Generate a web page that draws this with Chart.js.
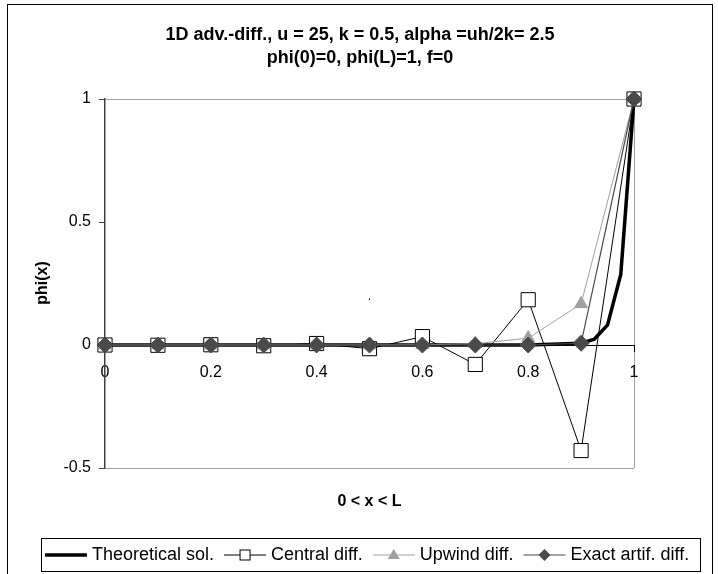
<!DOCTYPE html>
<html>
<head>
<meta charset="utf-8">
<script src="https://cdn.jsdelivr.net/npm/chart.js@4.4.1/dist/chart.umd.min.js"></script>
<style>
    html, body { margin: 0; padding: 0; background: #fff; }
    #wrap { width: 718px; height: 574px; position: relative; }
</style>
</head>
<body>
<div id="wrap">
    <canvas id="grafico" width="718" height="574"></canvas>
</div>
<script>

// DATOS
const xNodes = [0, 0.1, 0.2, 0.3, 0.4, 0.5, 0.6, 0.7, 0.8, 0.9, 1];

const centralDiff = [0, -0.001, 0.001, -0.003, 0.006, -0.015, 0.034, -0.079, 0.184, -0.429, 1];

const upwindDiff = [0, 0, 0, 0, 0, 0, 0.001, 0.005, 0.028, 0.167, 1];

const exactArtif = [0, 0, 0, 0, 0, 0, 0, 0, 0, 0.007, 1];

const theoryX = [0, 0.1, 0.2, 0.3, 0.4, 0.5, 0.6, 0.7, 0.8, 0.9, 0.925, 0.95, 0.975, 1];

const theoryY = [0, 0, 0, 0, 0, 0, 0, 0, 0, 0.007, 0.024, 0.082, 0.287, 1];

const seriesNames = [
    'Theoretical sol.',
    'Central diff.',
    'Upwind diff.',
    'Exact artif. diff.'
];

const xTicks = [0, 0.2, 0.4, 0.6, 0.8, 1];

const yTicks = [-0.5, 0, 0.5, 1];

const titleLines = [
    '1D adv.-diff., u = 25, k = 0.5, alpha =uh/2k= 2.5',
    'phi(0)=0, phi(L)=1, f=0'
];

const xTitle = '0 < x < L';

const yTitle = 'phi(x)';

// marca suelta que aparece dentro del grafico
const strayMark = { x: 0.5, y: 0.17, text: '\u2018' };

const FONT = 'Arial, "Liberation Sans", sans-serif';

function pares(xs, ys) {

    return xs.map((x, i) => ({ x: x, y: ys[i] }));
}

// MARCADORES LEYENDA
function marcador(ctx, tipo, x, y) {

    ctx.save();
    ctx.lineWidth = 1;

    if (tipo === 'rect') {
        ctx.fillStyle = '#fff';
        ctx.strokeStyle = '#000';
        ctx.fillRect(x - 5, y - 5, 10, 10);
        ctx.strokeRect(x - 5, y - 5, 10, 10);
    }

    if (tipo === 'triangle') {
        ctx.fillStyle = '#a0a0a0';
        ctx.beginPath();
        ctx.moveTo(x, y - 6);
        ctx.lineTo(x + 6, y + 4);
        ctx.lineTo(x - 6, y + 4);
        ctx.closePath();
        ctx.fill();
    }

    if (tipo === 'rectRot') {
        ctx.fillStyle = '#4a4a4a';
        ctx.beginPath();
        ctx.moveTo(x, y - 6);
        ctx.lineTo(x + 6, y);
        ctx.lineTo(x, y + 6);
        ctx.lineTo(x - 6, y);
        ctx.closePath();
        ctx.fill();
    }

    ctx.restore();
}

// TEXTOS, MARCO Y LEYENDA
const marco = {

    id: 'marco',

    beforeDraw(chart) {

        const ctx = chart.ctx;
        ctx.save();
        ctx.fillStyle = '#fff';
        ctx.fillRect(0, 0, chart.width, chart.height);
        ctx.restore();
    },

    afterDraw(chart) {

        const ctx = chart.ctx;
        const area = chart.chartArea;

        ctx.save();

        // borde exterior
        ctx.strokeStyle = '#000';
        ctx.lineWidth = 1;
        ctx.strokeRect(7.5, 4.5, 705, 600);

        // titulo
        ctx.fillStyle = '#000';
        ctx.textAlign = 'center';
        ctx.textBaseline = 'middle';
        ctx.font = 'bold 18px ' + FONT;

        ctx.fillText(titleLines[0], 360, 35);
        ctx.fillText(titleLines[1], 360, 58);

        // titulos de ejes
        ctx.font = 'bold 16px ' + FONT;
        ctx.fillText(xTitle, (area.left + area.right) / 2, 502);

        ctx.save();
        ctx.translate(43, 283);
        ctx.rotate(-Math.PI / 2);
        ctx.fillText(yTitle, 0, 0);
        ctx.restore();

        // marca suelta
        ctx.font = '11px ' + FONT;
        ctx.fillText(
            strayMark.text,
            chart.scales.x.getPixelForValue(strayMark.x),
            chart.scales.y.getPixelForValue(strayMark.y)
        );

        // leyenda
        ctx.strokeStyle = '#000';
        ctx.strokeRect(41.5, 538.5, 659, 33);

        ctx.font = '18px ' + FONT;
        ctx.textAlign = 'left';

        const ds = chart.data.datasets;
        const ly = 555;
        let lx = 45;

        ds.forEach((d, i) => {

            ctx.save();
            ctx.strokeStyle = d.borderColor;
            ctx.lineWidth = d.borderWidth;
            ctx.beginPath();
            ctx.moveTo(lx, ly);
            ctx.lineTo(lx + 42, ly);
            ctx.stroke();
            ctx.restore();

            if (d.pointRadius > 0) {
                marcador(ctx, d.pointStyle, lx + 21, ly);
            }

            ctx.fillStyle = '#000';
            ctx.fillText(seriesNames[i], lx + 47, ly);

            lx += 47 + ctx.measureText(seriesNames[i]).width + 10;
        });

        ctx.restore();
    }
};

// CHART
new Chart(

    document.getElementById('grafico'),

    {
        type: 'scatter',

        data: {

            datasets: [
                {
                    label: seriesNames[0],
                    data: pares(theoryX, theoryY),
                    showLine: true,
                    clip: false,
                    borderColor: '#000',
                    borderWidth: 3.5,
                    pointRadius: 0,
                    order: 4
                },
                {
                    label: seriesNames[1],
                    data: pares(xNodes, centralDiff),
                    showLine: true,
                    clip: false,
                    borderColor: '#000',
                    borderWidth: 1,
                    pointStyle: 'rect',
                    pointRadius: 10,
                    pointBackgroundColor: '#fff',
                    pointBorderColor: '#000',
                    pointBorderWidth: 1,
                    order: 3
                },
                {
                    label: seriesNames[2],
                    data: pares(xNodes, upwindDiff),
                    showLine: true,
                    clip: false,
                    borderColor: '#a0a0a0',
                    borderWidth: 1,
                    pointStyle: 'triangle',
                    pointRadius: 7.5,
                    pointBackgroundColor: '#a0a0a0',
                    pointBorderColor: '#a0a0a0',
                    pointBorderWidth: 1,
                    order: 2
                },
                {
                    label: seriesNames[3],
                    data: pares(xNodes, exactArtif),
                    showLine: true,
                    clip: false,
                    borderColor: '#4a4a4a',
                    borderWidth: 1.2,
                    pointStyle: 'rectRot',
                    pointRadius: 8,
                    pointBackgroundColor: '#4a4a4a',
                    pointBorderColor: '#4a4a4a',
                    pointBorderWidth: 1,
                    order: 1
                }
            ]
        },

        options: {

            responsive: false,
            animation: false,
            devicePixelRatio: 1,

            layout: {
                padding: { left: 0, right: 84, top: 99, bottom: 106 }
            },

            elements: {
                line: { tension: 0 }
            },

            scales: {

                x: {
                    type: 'linear',
                    position: { y: 0 },
                    min: 0,
                    max: 1,
                    afterBuildTicks: s => { s.ticks = xTicks.map(v => ({ value: v })); },
                    ticks: {
                        color: '#000',
                        font: { family: FONT, size: 16 },
                        padding: 12,
                        maxRotation: 0,
                        callback: v => String(v)
                    },
                    grid: {
                        color: c => (c.tick && c.tick.value === 1) ? '#a0a0a0' : 'rgba(0,0,0,0)',
                        tickColor: '#000',
                        tickLength: 6,
                        lineWidth: 1
                    },
                    border: { display: true, color: '#000', width: 1 }
                },

                y: {
                    type: 'linear',
                    position: 'left',
                    min: -0.5,
                    max: 1,
                    afterBuildTicks: s => { s.ticks = yTicks.map(v => ({ value: v })); },
                    afterFit: s => { s.width = 105; },
                    ticks: {
                        color: '#000',
                        font: { family: FONT, size: 16 },
                        padding: 8,
                        callback: v => String(v)
                    },
                    grid: {
                        color: c => (c.tick && (c.tick.value === 1 || c.tick.value === -0.5)) ? '#a0a0a0' : 'rgba(0,0,0,0)',
                        tickColor: '#404040',
                        tickLength: 6,
                        lineWidth: 1
                    },
                    border: { display: true, color: '#404040', width: 1.5 }
                }
            },

            plugins: {
                legend: { display: false },
                title: { display: false },
                tooltip: { enabled: false }
            }
        },

        plugins: [marco]
    }
);

</script>
</body>
</html>
